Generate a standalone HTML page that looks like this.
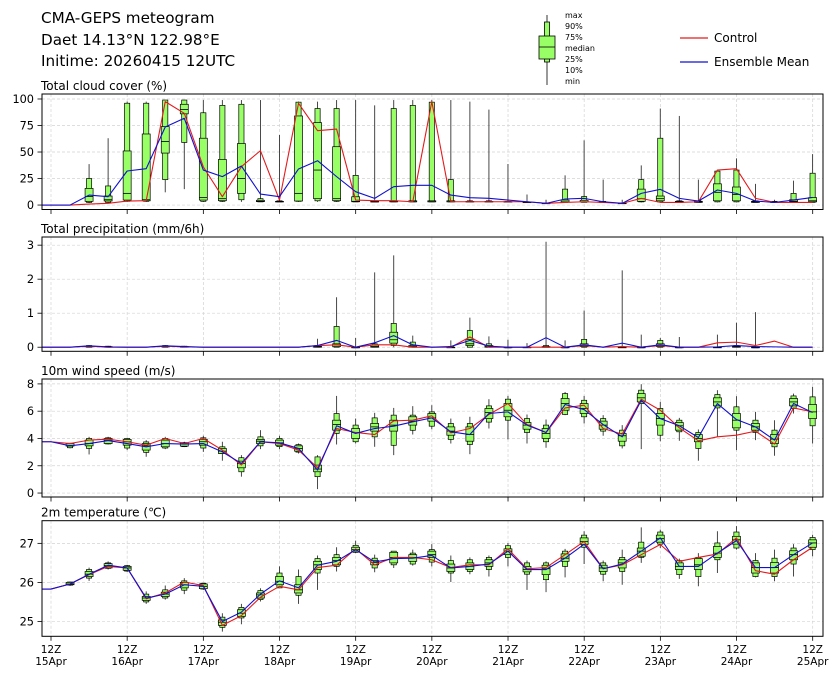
<!DOCTYPE html>
<html><head><meta charset="utf-8">
<style>
html,body{margin:0;padding:0;background:#fff;}
svg{display:block;font-family:"DejaVu Sans","Liberation Sans",sans-serif;}
</style></head>
<body>
<svg id="chart" width="840" height="680" viewBox="0 0 840 680" xmlns="http://www.w3.org/2000/svg">
<text x="41" y="23" font-size="15.2" fill="#000">CMA-GEPS meteogram</text>
<text x="41" y="45" font-size="15.2" fill="#000">Daet 14.13°N 122.98°E</text>
<text x="41" y="66" font-size="15.2" fill="#000">Initime: 20260415 12UTC</text>
<g>
<line x1="547" y1="15" x2="547" y2="85" stroke="#000" stroke-width="0.8"/>
<rect x="544.5" y="22" width="5" height="40" fill="#99ff66" stroke="#000" stroke-width="0.8"/>
<rect x="539" y="36" width="16" height="23" fill="#99ff66" stroke="#000" stroke-width="0.8"/>
<line x1="539" y1="47" x2="555" y2="47" stroke="#000" stroke-width="0.8"/>
<text x="565" y="18" font-size="8">max</text>
<text x="565" y="29" font-size="8">90%</text>
<text x="565" y="40" font-size="8">75%</text>
<text x="565" y="51" font-size="8">median</text>
<text x="565" y="62" font-size="8">25%</text>
<text x="565" y="73" font-size="8">10%</text>
<text x="565" y="84" font-size="8">min</text>
</g>
<g>
<line x1="680" y1="38" x2="708" y2="38" stroke="#e41a1c" stroke-width="1.2"/>
<text x="714" y="42" font-size="12">Control</text>
<line x1="680" y1="62" x2="708" y2="62" stroke="#1010d0" stroke-width="1.2"/>
<text x="714" y="66" font-size="12">Ensemble Mean</text>
</g>
</svg>
<script>
// ---------- data (41 steps, 6-hourly from 12Z 15Apr) ----------
const dayLabels = ["15Apr","16Apr","17Apr","18Apr","19Apr","20Apr","21Apr","22Apr","23Apr","24Apr","25Apr"];
const cloudTicks = [0,25,50,75,100];
const precipTicks = [0,1,2,3];
const windTicks = [0,2,4,6,8];
const tempTicks = [25,26,27];

const cloudCtrl = [0,0,0.9,1.6,3.8,4.1,97.5,86.5,36,7.9,36.2,51.3,4.7,95.9,70.1,71.6,4.7,4.1,4.1,3.1,97.5,3.1,3.1,3.1,3.1,3.1,1.6,2.5,3.1,2.5,1.6,6.3,2.5,2.5,3.1,33,34.3,6.3,2.5,2.5,2.5];
const cloudMean = [0,0,9.4,7.9,32.1,34.3,73.6,81.8,33,26.8,36.8,10.4,7.9,34,41.8,26.8,12.6,6.3,17.3,18.6,18.6,9.4,6.9,6.3,4.7,3.1,1.6,5.7,6.3,3.1,1.6,11,14.8,6.3,3.8,14.2,11,3.8,2.5,4.7,7.2];
const cloudBox = [null,null,
[2,2.5,3.5,8,15.7,25,38.6],[2,2.5,3.8,5,8.5,18,63],[3,3.5,4.7,11,51,96,97.5],[3,3.5,4,5,67,96,97.5],
[12,24,49,60,74,99,99.1],[15,59,86,90,95,99,99.1],[3,3.5,4.7,7,63,87,99],[3,3.5,4.1,6,43,94,99],
[3,5,11,25,58,95,99],[3,3,3.2,3.5,4.5,6,99],[3,3,3,3.2,3.5,4,66],[3,3.5,3.8,11,84,97,97.5],
[3,4,6,33,77.7,91,97.5],[3,3.5,4.1,6,55,91,99],[3,3,3.1,3.5,7.8,28,99],[3,3,3,3,3.5,4,94],
[3,3,3,3.2,4,91,99],[3,3,3,3.2,4,94,99],[3,3,3,3.2,4,97,99],[3,3,3,3.2,4,24,99],
[3,3,3,3,3.5,4,97.5],[3,3,3,3,3.5,4,90],[3,3,3,3,3.3,3.5,38.7],[2.5,2.5,2.5,2.6,2.8,3,10],
[1.5,1.5,1.5,1.6,1.8,2,5],[2.5,2.5,2.8,3,4.7,15,28],[2.5,2.5,3,3,4.5,8,61],[2.5,2.5,2.5,2.7,3,3.5,24],
[1.5,1.5,1.5,1.6,1.8,2,5],[2.5,3,3.5,6,15,24,37.4],[2.5,3,4,6,8.5,63,91],[2.5,2.5,2.5,3,3.5,4,84],
[2.5,2.5,2.5,3,3.5,4,24],[2.5,3,4,12,20,32,32],[2.5,3,4,10,17,33,44],[2.5,2.5,2.5,3,3.5,4,20],
[2.5,2.5,2.5,2.7,3,3.5,5],[2.5,2.5,3,3.5,5,11,23],[2.5,2.5,3,4,7,30,48]];

const precipCtrl = [0,0,0.03,0,0,0,0.03,0.01,0,0,0,0,0,0,0.05,0.07,0,0.07,0.07,0,0,0,0.3,0,0,0,0,0,0.05,0,0.02,0,0.05,0,0,0.13,0.15,0.05,0.18,0,0];
const precipMean = [0,0,0.04,0.01,0,0,0.04,0.02,0,0,0,0,0,0,0.05,0.2,0,0.13,0.34,0.07,0,0.02,0.2,0.03,0,0,0.28,0,0.07,0,0.12,0,0.07,0,0,0.01,0.05,0.02,0.01,0,0];
const precipBox = [null,null,[0,0,0.01,0.02,0.04,0.05,0.06],[0,0,0,0.01,0.02,0.03,0.04],null,null,[0,0,0.01,0.02,0.04,0.05,0.06],[0,0,0,0.01,0.02,0.03,0.04],null,null,null,null,null,null,
[0,0,0,0.01,0.03,0.05,0.25],[0,0,0.02,0.07,0.1,0.61,1.47],[0,0,0,0,0,0,0.27],[0,0,0,0.02,0.06,0.1,2.2],
[0,0.05,0.12,0.22,0.44,0.7,2.7],[0,0,0,0.02,0.05,0.15,0.34],null,[0,0,0,0,0,0.02,0.2],
[0,0,0.05,0.1,0.23,0.49,0.87],[0,0,0,0.02,0.05,0.1,0.32],[0,0,0,0,0,0,0.22],[0,0,0,0,0,0.01,0.12],
[0,0,0,0,0.02,0.05,3.1],[0,0,0,0,0,0,0.2],[0,0,0.02,0.05,0.1,0.23,1.08],null,
[0,0,0,0,0,0.01,2.26],[0,0,0,0,0,0,0.37],[0,0,0.02,0.05,0.1,0.2,0.27],[0,0,0,0,0,0,0.3],null,
[0,0,0,0,0,0.01,0.37],[0,0,0,0.02,0.03,0.05,0.72],[0,0,0,0,0,0,1.03],null,null,null];

const windCtrl = [3.76,3.63,3.88,3.95,3.76,3.51,4.0,3.63,4.0,3.15,2.05,3.76,3.63,3.15,1.85,4.73,4.44,4.29,5.29,5.34,5.66,4.41,4.73,5.76,6.56,5.02,4.44,6.24,6.44,4.73,4.32,6.88,6.07,4.78,3.83,4.12,4.24,4.54,3.59,6.24,5.95];
const windMean = [3.76,3.46,3.63,3.85,3.63,3.39,3.63,3.59,3.63,3.02,2.17,3.76,3.68,3.27,1.68,4.93,4.37,4.73,4.9,5.22,5.51,4.49,4.29,5.83,5.95,4.98,4.44,6.49,6.12,5.02,4.12,6.8,5.46,4.93,4.07,6.56,5.39,4.85,3.88,6.56,5.9];
const windBox = [null,
[3.27,3.32,3.44,3.5,3.63,3.65,3.68],[2.83,3.27,3.46,3.63,3.88,4.0,4.12],[3.56,3.6,3.63,3.85,4.0,4.05,4.12],[3.15,3.3,3.51,3.76,3.93,4.0,4.05],
[2.66,2.98,3.15,3.46,3.63,3.75,3.88],[3.22,3.3,3.39,3.63,3.88,4.0,4.12],[3.37,3.4,3.44,3.59,3.68,3.7,3.76],[3.02,3.3,3.51,3.76,3.93,4.05,4.2],
[2.37,2.9,2.9,3.07,3.27,3.39,3.76],[1.2,1.56,1.85,2.17,2.34,2.59,2.78],[3.22,3.46,3.63,3.8,3.93,4.12,4.61],[3.22,3.4,3.51,3.68,3.88,4.0,4.2],
[2.9,3.0,3.07,3.27,3.46,3.55,3.63],[0.29,1.2,1.56,1.76,2.05,2.65,2.78],[3.56,4.37,4.61,5.02,5.34,5.83,7.12],[3.63,3.76,4.0,4.44,4.73,4.98,5.46],
[3.39,4.12,4.54,4.85,5.1,5.51,5.88],[2.78,3.5,4.54,4.98,5.34,5.71,6.24],[4.29,4.6,4.98,5.27,5.59,5.71,6.37],[4.68,4.9,5.27,5.51,5.83,5.95,6.44],
[3.63,3.93,4.24,4.54,4.85,5.1,5.46],[2.85,3.56,3.8,4.29,4.85,5.1,5.59],[4.73,5.2,5.46,5.9,6.2,6.39,6.88],[3.93,5.34,5.59,6.07,6.56,6.88,7.12],
[3.63,4.44,4.68,4.98,5.17,5.46,5.76],[3.32,3.76,4.0,4.37,4.73,4.98,5.39],[5.71,5.76,6.07,6.56,6.93,7.29,7.41],[5.1,5.59,5.83,6.2,6.56,6.8,7.12],
[4.2,4.54,4.68,4.98,5.27,5.46,5.71],[3.27,3.46,3.8,4.2,4.37,4.61,4.98],[3.22,6.56,6.68,6.98,7.29,7.54,7.98],[3.8,4.24,4.98,5.46,5.83,6.2,6.68],
[3.83,4.49,4.61,4.93,5.17,5.34,5.51],[2.37,3.27,3.76,4.0,4.29,4.44,4.66],[4.12,6.24,6.39,6.68,6.98,7.22,7.54],[3.15,4.61,4.78,5.34,5.83,6.32,7.1],
[3.88,4.44,4.61,4.85,5.1,5.34,5.95],[2.73,3.39,3.63,3.95,4.29,4.61,5.34],[5.83,6.2,6.39,6.68,6.93,7.12,7.29],[3.63,4.93,5.46,5.95,6.49,7.05,7.78]];

const tempCtrl = [25.83,25.96,26.2,26.41,26.37,25.58,25.73,26.01,25.92,24.9,25.15,25.62,25.9,25.81,26.38,26.44,26.86,26.45,26.64,26.64,26.58,26.38,26.45,26.45,26.86,26.35,26.38,26.71,27.05,26.35,26.45,26.71,26.97,26.54,26.64,26.73,27.14,26.3,26.21,26.58,26.9];
const tempMean = [25.83,25.96,26.21,26.44,26.37,25.6,25.7,25.94,25.9,25.0,25.24,25.7,26.04,25.86,26.44,26.54,26.84,26.52,26.61,26.62,26.69,26.37,26.41,26.47,26.8,26.33,26.33,26.62,26.98,26.35,26.47,26.8,27.14,26.41,26.41,26.75,27.07,26.38,26.38,26.71,27.01];
const tempBox = [null,
[25.91,25.93,25.94,25.96,26.0,26.01,26.02],[26.04,26.11,26.15,26.21,26.28,26.33,26.38],[26.33,26.36,26.37,26.43,26.48,26.5,26.54],[26.27,26.29,26.31,26.37,26.41,26.43,26.45],
[25.45,25.5,25.54,25.6,25.64,25.7,25.77],[25.56,25.6,25.64,25.7,25.75,25.81,25.92],[25.7,25.8,25.86,25.94,26.0,26.04,26.11],[25.81,25.83,25.84,25.9,25.96,25.98,25.98],
[24.74,24.85,24.9,24.98,25.04,25.11,25.21],[24.93,25.09,25.13,25.21,25.3,25.36,25.45],[25.51,25.56,25.6,25.68,25.73,25.79,25.85],[25.86,25.86,25.94,26.03,26.15,26.24,26.41],
[25.45,25.67,25.73,25.81,25.94,26.15,26.33],[25.81,26.24,26.33,26.45,26.54,26.61,26.69],[26.28,26.41,26.45,26.56,26.64,26.71,26.9],[26.75,26.77,26.8,26.84,26.9,26.95,27.07],
[26.26,26.37,26.45,26.51,26.56,26.62,26.71],[26.37,26.45,26.5,26.64,26.77,26.8,26.8],[26.43,26.47,26.54,26.64,26.71,26.75,26.84],[26.41,26.52,26.64,26.71,26.8,26.84,26.98],
[26.01,26.24,26.28,26.37,26.47,26.56,26.69],[26.21,26.28,26.33,26.41,26.5,26.58,26.64],[26.15,26.33,26.41,26.5,26.58,26.64,26.69],[26.41,26.64,26.71,26.8,26.86,26.94,27.01],
[25.81,26.21,26.27,26.33,26.41,26.5,26.56],[25.75,26.07,26.2,26.35,26.44,26.5,26.54],[26.13,26.41,26.54,26.62,26.73,26.8,26.86],[26.47,26.9,26.97,27.05,27.14,27.21,27.31],
[26.03,26.21,26.28,26.37,26.44,26.5,26.56],[25.94,26.28,26.37,26.5,26.58,26.64,26.84],[26.5,26.64,26.67,26.8,26.88,27.03,27.41],[26.88,26.98,27.03,27.12,27.21,27.29,27.35],
[26.09,26.2,26.33,26.41,26.5,26.56,26.61],[25.9,26.15,26.33,26.45,26.61,26.64,26.75],[26.24,26.58,26.64,26.75,26.92,27.01,27.31],[26.84,26.88,26.98,27.09,27.18,27.29,27.44],
[26.13,26.15,26.24,26.38,26.5,26.56,26.75],[26.03,26.15,26.24,26.38,26.51,26.62,26.84],[26.15,26.47,26.58,26.71,26.81,26.88,26.98],[26.67,26.84,26.9,27.01,27.09,27.15,27.22]];

// ---------- drawing ----------
const NS = "http://www.w3.org/2000/svg";
const svg = document.getElementById("chart");
const AX_L = 42, AX_R = 823, X0 = 51, STEP = 19.04, DAY = 76.17;
function xScale(k){ return X0 + k*STEP; }
function mk(tag, attrs, parent){
  const e = document.createElementNS(NS, tag);
  for (const k in attrs) e.setAttribute(k, attrs[k]);
  (parent||svg).appendChild(e);
  return e;
}
const panels = [
  {name:"cloud", title:"Total cloud cover (%)", top:94, bottom:209.5, vmin:-4.2, vmax:104.7, ticks:cloudTicks, ctrl:cloudCtrl, mean:cloudMean, box:cloudBox},
  {name:"precip", title:"Total precipitation (mm/6h)", top:237, bottom:351.3, vmin:-0.12, vmax:3.24, ticks:precipTicks, ctrl:precipCtrl, mean:precipMean, box:precipBox},
  {name:"wind", title:"10m wind speed (m/s)", top:379, bottom:497, vmin:-0.29, vmax:8.36, ticks:windTicks, ctrl:windCtrl, mean:windMean, box:windBox},
  {name:"temp", title:"2m temperature (\u2103)", top:520.7, bottom:636.3, vmin:24.62, vmax:27.58, ticks:tempTicks, ctrl:tempCtrl, mean:tempMean, box:tempBox}
];
panels.forEach(function(p, pi){
  const g = mk("g", {});
  
  
  const yS = function(v){ return p.bottom - (v - p.vmin)/(p.vmax - p.vmin)*(p.bottom - p.top); };
  const t = mk("text", {x:41, y:p.top-4, "font-size":"12"}, g);
  t.textContent = p.title;
  
  
  const cp = mk("clipPath", {id:"clip"+pi}, g);
  mk("rect", {x:AX_L, y:p.top, width:AX_R-AX_L, height:p.bottom-p.top}, cp);
  dayLabels.forEach(function(d, i){
    const x = X0 + i*DAY;
    mk("line", {x1:x, x2:x, y1:p.top, y2:p.bottom, stroke:"#d3d3d3", "stroke-width":0.7, "stroke-dasharray":"3,2"}, g);
    mk("line", {x1:x, x2:x, y1:p.bottom, y2:p.bottom+4.5, stroke:"#000", "stroke-width":0.8}, g);
  });
  p.ticks.forEach(function(v){
    const y = yS(v);
    mk("line", {x1:AX_L, x2:AX_R, y1:y, y2:y, stroke:"#d3d3d3", "stroke-width":0.7, "stroke-dasharray":"3,2"}, g);
    mk("line", {x1:AX_L-4.5, x2:AX_L, y1:y, y2:y, stroke:"#000", "stroke-width":0.8}, g);
    const tl = mk("text", {x:AX_L-8, y:y+4, "font-size":"11.3", "text-anchor":"end"}, g);
    tl.textContent = v;
    
    
  });
  const inner = mk("g", {"clip-path":"url(#clip"+pi+")"}, g);
  p.box.forEach(function(b, k){
    if (!b) return;
    const x = xScale(k);
    const bg = mk("g", {}, inner);
    
    
    mk("line", {x1:x, x2:x, y1:yS(b[0]), y2:yS(b[6]), stroke:"#333", "stroke-width":0.9}, bg);
    mk("rect", {x:x-2.6, y:yS(b[5]), width:5.2, height:Math.max(0.6, yS(b[1])-yS(b[5])), fill:"#99ff66", stroke:"#000", "stroke-width":0.7}, bg);
    mk("rect", {x:x-4, y:yS(b[4]), width:8, height:Math.max(0.6, yS(b[2])-yS(b[4])), fill:"#99ff66", stroke:"#000", "stroke-width":0.7}, bg);
    mk("line", {x1:x-4, x2:x+4, y1:yS(b[3]), y2:yS(b[3]), stroke:"#000", "stroke-width":0.8}, bg);
  });
  function line(arr, color, nm){
    let d = "M" + AX_L + "," + yS(arr[0]).toFixed(2);
    arr.forEach(function(v, k){ d += " L" + xScale(k).toFixed(2) + "," + yS(v).toFixed(2); });
    const pl = mk("path", {d:d, fill:"none", stroke:color, "stroke-width":1.1, "stroke-linejoin":"round"}, inner);
    
    
  }
  line(p.ctrl, "#e41a1c", "control-line");
  line(p.mean, "#1010d0", "ensemble-mean-line");
  mk("rect", {x:AX_L, y:p.top, width:AX_R-AX_L, height:p.bottom-p.top, fill:"none", stroke:"#000", "stroke-width":1}, g);
  if (pi === 3){
    dayLabels.forEach(function(d, i){
      const x = X0 + i*DAY;
      const a = mk("text", {x:x, y:653, "font-size":"10.5", "text-anchor":"middle"}, g);
      a.textContent = "12Z";
      
      
      const b = mk("text", {x:x, y:665, "font-size":"10.5", "text-anchor":"middle"}, g);
      b.textContent = d;
      
      
    });
  }
});
</script>
</body></html>
